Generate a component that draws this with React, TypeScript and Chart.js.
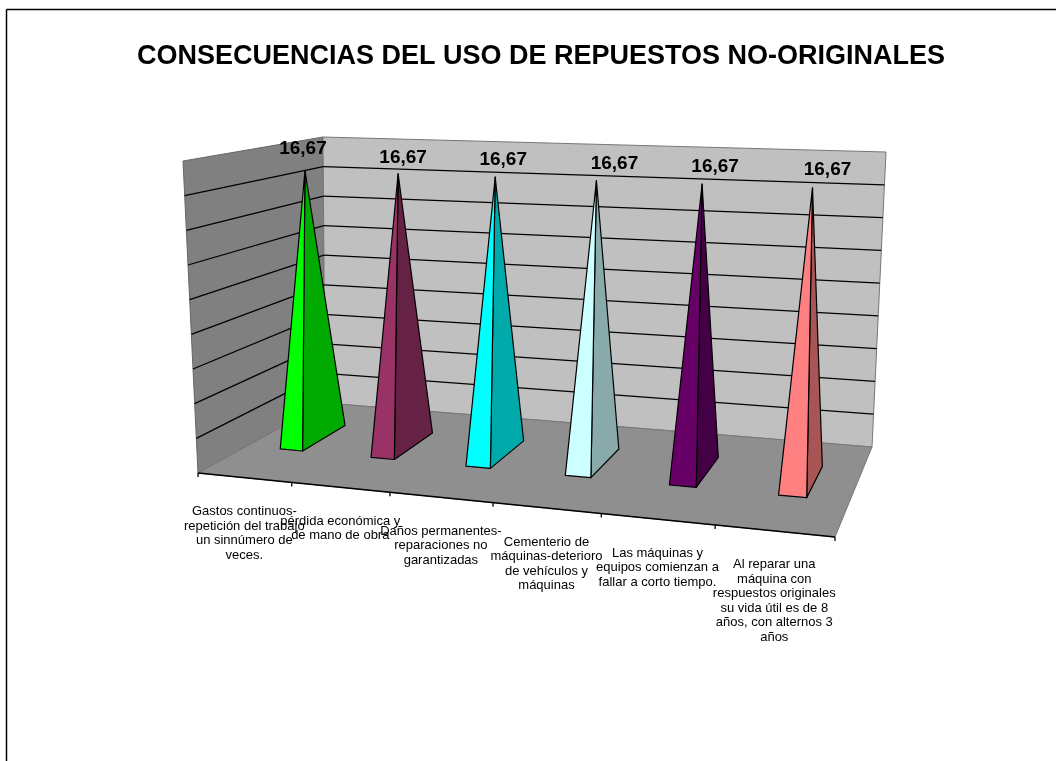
import React, { useEffect, useRef } from "react";
import { BarController, Chart, registerables } from "chart.js";

// Chart content
const chartTitle = "CONSECUENCIAS DEL USO DE REPUESTOS NO-ORIGINALES";
const categoryLines: string[][] = [
  ["Gastos continuos-", "repetición del trabajo", "un sinnúmero de", "veces."],
  ["pérdida económica y", "de mano de obra"],
  ["Daños permanentes-", "reparaciones no", "garantizadas"],
  ["Cementerio de", "máquinas-deterioro", "de vehículos y", "máquinas"],
  ["Las máquinas y", "equipos comienzan a", "fallar a corto tiempo."],
  ["Al reparar una", "máquina con", "respuestos originales", "su vida útil es de 8", "años, con alternos 3", "años"],
];
const shares = [16.67, 16.67, 16.67, 16.67, 16.67, 16.67];
const faceColors = ["#00FF00", "#993366", "#00FFFF", "#CCFFFF", "#660066", "#FF8080"];

// Hand-placed value labels, relative to each pyramid's apex
const valueLabelDx = [-2, 5, 8, 18, 13, 15];
const valueLabelDy = [-22, -16, -17, -17, -17, -18];

type Pt = [number, number];

// Projective map from the unit square onto a quad (u0z0, u1z0, u1z1, u0z1)
function quadMap(a: Pt, b: Pt, c: Pt, d: Pt) {
  const dx1 = b[0] - c[0], dx2 = d[0] - c[0], sx = a[0] - b[0] + c[0] - d[0];
  const dy1 = b[1] - c[1], dy2 = d[1] - c[1], sy = a[1] - b[1] + c[1] - d[1];
  const det = dx1 * dy2 - dx2 * dy1;
  const g = (sx * dy2 - dx2 * sy) / det;
  const h = (dx1 * sy - sx * dy1) / det;
  const m = [b[0] - a[0] + g * b[0], d[0] - a[0] + h * d[0], a[0], b[1] - a[1] + g * b[1], d[1] - a[1] + h * d[1], a[1]];
  return (u: number, z: number): Pt => {
    const w = g * u + h * z + 1;
    return [(m[0] * u + m[1] * z + m[2]) / w, (m[3] * u + m[4] * z + m[5]) / w];
  };
}

// The plot box as seen in perspective: floor and ceiling quads
const floorMap = quadMap([198, 473], [835, 537], [872, 447], [325, 403]);
const ceilingMap = quadMap([183, 161], [852, 183], [886, 152], [323, 137]);

// u: across the categories, v: up the value axis, z: from front to back
function project(u: number, v: number, z: number): Pt {
  const f = floorMap(u, z);
  const t = ceilingMap(u, z);
  return [f[0] + (t[0] - f[0]) * v, f[1] + (t[1] - f[1]) * v];
}

const DEPTH_CENTER = 0.53;
const DEPTH_HALF = 0.18;
const APEX_DEPTH = 0.5;

function poly(ctx: CanvasRenderingContext2D, pts: Pt[], fill: string, stroke: string, lw = 1) {
  ctx.beginPath();
  pts.forEach((p, i) => (i ? ctx.lineTo(p[0], p[1]) : ctx.moveTo(p[0], p[1])));
  ctx.closePath();
  ctx.fillStyle = fill;
  ctx.fill();
  ctx.strokeStyle = stroke;
  ctx.lineWidth = lw;
  ctx.stroke();
}

function segment(ctx: CanvasRenderingContext2D, a: Pt, b: Pt, stroke: string, lw = 1) {
  ctx.beginPath();
  ctx.moveTo(a[0], a[1]);
  ctx.lineTo(b[0], b[1]);
  ctx.strokeStyle = stroke;
  ctx.lineWidth = lw;
  ctx.stroke();
}

function shade(hex: string): string {
  const n = parseInt(hex.slice(1), 16);
  const c = [(n >> 16) & 255, (n >> 8) & 255, n & 255].map((k) => Math.round((k * 2) / 3));
  return `rgb(${c[0]},${c[1]},${c[2]})`;
}

// Bar geometry from the scales, drawn as four-sided pyramids in the projected box
class PyramidController extends BarController {
  static id = "pyramid";
  static defaults = { ...BarController.defaults };
  static overrides = BarController.overrides;

  draw() {
    const ctx: CanvasRenderingContext2D = (this as any)._ctx;
    const { chartArea } = this.chart;
    const w = chartArea.right - chartArea.left;
    const h = chartArea.bottom - chartArea.top;
    this.getMeta().data.forEach((bar: any) => {
      const u0 = (bar.x - bar.width / 2 - chartArea.left) / w;
      const u1 = (bar.x + bar.width / 2 - chartArea.left) / w;
      const uc = (bar.x - chartArea.left) / w;
      const v = (chartArea.bottom - bar.y) / h;
      const apex = project(uc, v, APEX_DEPTH);
      const fl = project(u0, 0, DEPTH_CENTER - DEPTH_HALF);
      const fr = project(u1, 0, DEPTH_CENTER - DEPTH_HALF);
      const br = project(u1, 0, DEPTH_CENTER + DEPTH_HALF);
      const color = bar.options.backgroundColor;
      ctx.save();
      ctx.lineJoin = "round";
      poly(ctx, [fr, br, apex], shade(color), "#000", 1.2);
      poly(ctx, [fl, fr, apex], color, "#000", 1.2);
      ctx.restore();
    });
  }
}

// Frame rule, walls, floor and grid
const boxPlugin = {
  id: "box",
  beforeDatasetsDraw(chart: Chart) {
    const ctx = chart.ctx;
    const area = chart.chartArea;
    const xs = chart.scales.x;
    const ys = chart.scales.y;
    const w = area.right - area.left;
    const h = area.bottom - area.top;
    ctx.save();

    segment(ctx, [6.5, 9.5], [1056, 9.5], "#000", 1.5);
    segment(ctx, [6.5, 9.5], [6.5, 761], "#000", 1.5);

    poly(ctx, [project(0, 0, 0), project(0, 1, 0), project(0, 1, 1), project(0, 0, 1)], "#808080", "#666", 1);
    poly(ctx, [project(0, 0, 1), project(0, 1, 1), project(1, 1, 1), project(1, 0, 1)], "#C0C0C0", "#777", 1);
    poly(ctx, [project(0, 0, 0), project(0, 0, 1), project(1, 0, 1), project(1, 0, 0)], "#8F8F8F", "#777", 1);

    ys.ticks.forEach((tick: any) => {
      const v = (area.bottom - ys.getPixelForValue(tick.value)) / h;
      if (v <= 0 || v >= 1) return;
      segment(ctx, project(0, v, 0), project(0, v, 1), "#000", 1.3);
      segment(ctx, project(0, v, 1), project(1, v, 1), "#000", 1.3);
    });

    // Category axis along the front edge of the floor
    segment(ctx, project(0, 0, 0), project(1, 0, 0), "#000", 1.3);
    const count = chart.data.labels!.length;
    for (let i = 0; i <= count; i++) {
      const u = (xs.getPixelForValue(i - 0.5) - area.left) / w;
      const p = project(u, 0, 0);
      segment(ctx, p, [p[0], p[1] + 4], "#000", 1.3);
    }
    ctx.restore();
  },
  afterDatasetsDraw(chart: Chart) {
    const ctx = chart.ctx;
    const area = chart.chartArea;
    const w = area.right - area.left;
    const h = area.bottom - area.top;
    const lines = chart.data.labels as string[][];
    ctx.save();
    ctx.textAlign = "center";
    ctx.textBaseline = "middle";
    ctx.fillStyle = "#000";

    ctx.font = "13px 'Liberation Sans', Arial, sans-serif";
    lines.forEach((label, i) => {
      const u = (chart.scales.x.getPixelForValue(i) - area.left) / w;
      const p = project(u, 0, 0);
      label.forEach((line, k) => ctx.fillText(line, p[0], p[1] + 34 + k * 14.5));
    });

    ctx.font = "bold 19px 'Liberation Sans', Arial, sans-serif";
    chart.getDatasetMeta(0).data.forEach((bar: any, i: number) => {
      const uc = (bar.x - area.left) / w;
      const v = (area.bottom - bar.y) / h;
      const apex = project(uc, v, APEX_DEPTH);
      const text = shares[i].toFixed(2).replace(".", ",");
      ctx.fillText(text, apex[0] + valueLabelDx[i], apex[1] + valueLabelDy[i]);
    });
    ctx.restore();
  },
};

Chart.register(...registerables, PyramidController);

export default function App() {
  const ref = useRef<HTMLCanvasElement>(null);
  useEffect(() => {
    const chart = new Chart(ref.current!, {
      type: "pyramid" as any,
      data: {
        labels: categoryLines as any,
        datasets: [{ data: shares, backgroundColor: faceColors, barPercentage: 0.25, categoryPercentage: 1 } as any],
      },
      options: {
        animation: false,
        responsive: false,
        layout: { padding: { left: 26 } },
        scales: {
          x: { type: "category", display: false },
          y: { type: "linear", display: false, min: 0, max: 18, ticks: { stepSize: 2 } },
        },
        plugins: {
          legend: { display: false },
          tooltip: { enabled: false },
          title: {
            display: true,
            text: chartTitle,
            color: "#000",
            font: { family: "'Liberation Sans', Arial, sans-serif", size: 27, weight: "bold" },
            padding: { top: 40, bottom: 0 },
          },
        },
      },
      plugins: [boxPlugin],
    } as any);
    return () => chart.destroy();
  }, []);
  return (
    <canvas
      ref={ref}
      width={1056}
      height={761}
      style={{ position: "absolute", left: 0, top: 0, display: "block", background: "#fff" }}
    />
  );
}
